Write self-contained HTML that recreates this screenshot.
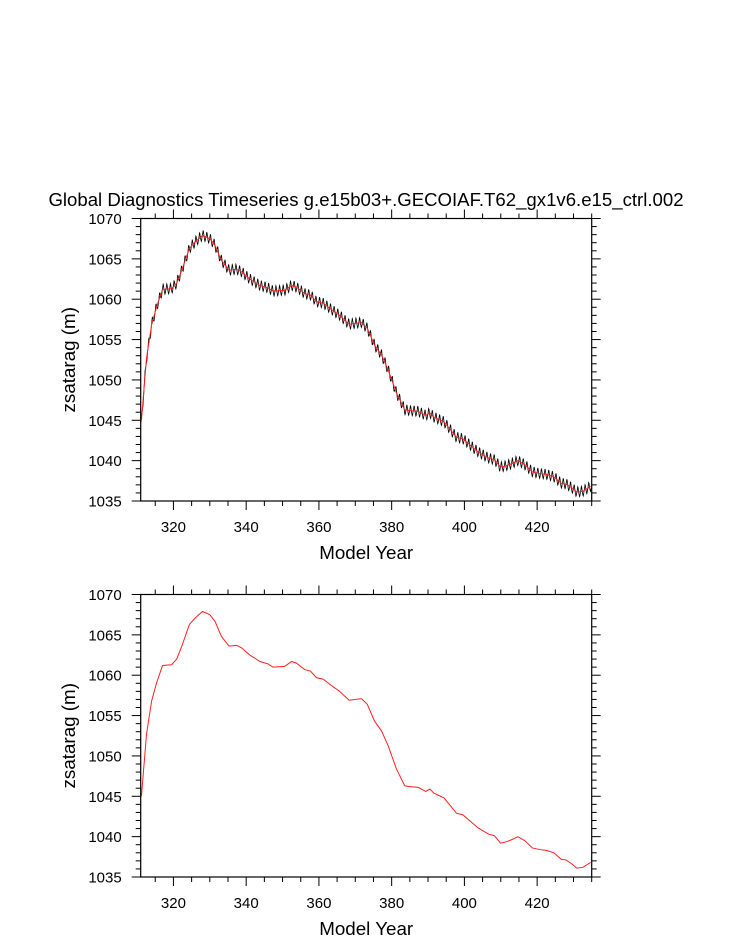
<!DOCTYPE html>
<html><head><meta charset="utf-8"><style>
html,body{margin:0;padding:0;background:#fff;}
svg{display:block;font-family:"Liberation Sans",Arial,sans-serif;}
</style></head><body>
<svg id="chart" width="733" height="945" viewBox="0 0 733 945">
<text x="366" y="206" text-anchor="middle" font-size="18.6">Global Diagnostics Timeseries g.e15b03+.GECOIAF.T62_gx1v6.e15_ctrl.002</text>
</svg>
<script>
const years = [311.2,312.6,314,315.4,317,319.5,320.9,322.3,324.4,326,328,330,331.4,333.2,335.3,337.4,338.7,341,343.8,346,347.4,350.6,352.5,353.8,356.1,357.7,359.3,361.2,363.5,365.7,367.1,368.3,371.7,373.3,375.3,377.2,379,381.3,383.6,385,387.3,389.4,390.5,391.6,394.4,396.2,397.8,399.6,401.9,403.7,404.8,406.7,408.3,409.9,411.1,412.9,414.7,416.6,418.7,420.7,422.5,424.6,426.6,428,429.6,430.9,432.6,434.7];
const values = [1045.0,1052.7,1056.8,1059.1,1061.2,1061.3,1062.0,1063.6,1066.3,1067.1,1067.9,1067.5,1066.7,1064.8,1063.6,1063.7,1063.4,1062.5,1061.7,1061.4,1061.0,1061.1,1061.7,1061.5,1060.7,1060.5,1059.7,1059.5,1058.7,1058.0,1057.4,1056.9,1057.1,1056.4,1054.3,1053.1,1051.3,1048.4,1046.3,1046.2,1046.1,1045.6,1045.9,1045.4,1044.8,1043.8,1042.9,1042.7,1041.8,1041.1,1040.8,1040.3,1040.1,1039.2,1039.3,1039.6,1040.0,1039.5,1038.6,1038.4,1038.3,1038.0,1037.2,1037.1,1036.6,1036.1,1036.2,1036.8];
const seasonal = [0.1,0.4,0.65,0.55,0.25,0.0,-0.25,-0.45,-0.6,-0.5,-0.25,0.0];
const xTicks = [320,340,360,380,400,420];
const yTicks = [1035,1040,1045,1050,1055,1060,1065,1070];
const xDomain = [311,435], yDomain = [1035,1070];

const NS = "http://www.w3.org/2000/svg";
const svg = document.getElementById('chart');
function el(tag, attrs, parent){const e=document.createElementNS(NS,tag);for(const k in attrs)e.setAttribute(k,attrs[k]);(parent||svg).appendChild(e);return e;}
function interp(y){
  if(y<=years[0])return values[0]-(years[0]-y)*3;
  for(let i=1;i<years.length;i++){if(y<=years[i]){const t=(y-years[i-1])/(years[i]-years[i-1]);return values[i-1]+t*(values[i]-values[i-1]);}}
  return values[values.length-1];
}
function panel(top, withMonthly, id){
  const L=140.7,R=591.7,T=top,B=top+282.5;
  const sx=v=>L+(v-xDomain[0])/(xDomain[1]-xDomain[0])*(R-L);
  const sy=v=>B-(v-yDomain[0])/(yDomain[1]-yDomain[0])*(B-T);
  const g=el('g',{});
  
  
  const clip=el('clipPath',{id:'clip'+id},g);
  el('rect',{x:L,y:T,width:R-L,height:B-T},clip);
  if(withMonthly){
    let d='';
    for(let m=0;m<=(434.9-311.0)*12;m++){
      const yr=311.0+m/12; const v=interp(yr)+seasonal[m%12];
      d+=(m?'L':'M')+sx(yr).toFixed(2)+','+sy(v).toFixed(2);
    }
    const p=el('path',{d:d,fill:'none',stroke:'#000','stroke-width':0.8,'clip-path':'url(#clip'+id+')'},g);
    
    
  }
  let d='';
  years.forEach((y,i)=>{d+=(i?'L':'M')+sx(y).toFixed(2)+','+sy(values[i]).toFixed(2);});
  const r=el('path',{d:d,fill:'none',stroke:'#ff2020','stroke-width':1,'clip-path':'url(#clip'+id+')'},g);
  
  
  const frame=el('rect',{x:L,y:T,width:R-L,height:B-T,fill:'none',stroke:'#000','stroke-width':1.2},g);
  
  
  for(let v=315;v<=435;v+=5){
    const major=(v%20===0); const len=major?9:5; const X=sx(v);
    el('line',{x1:X,y1:B,x2:X,y2:B+len,stroke:'#000','stroke-width':1},g);
    el('line',{x1:X,y1:T,x2:X,y2:T-len,stroke:'#000','stroke-width':1},g);
  }
  xTicks.forEach(v=>{
    const t=el('text',{x:sx(v),y:B+31,'text-anchor':'middle','font-size':15},g);
    t.textContent=v;
    
    
  });
  for(let v=1035;v<=1070;v+=1){
    const major=(v%5===0); const len=major?9:5; const Y=sy(v);
    el('line',{x1:L,y1:Y,x2:L-len,y2:Y,stroke:'#000','stroke-width':1},g);
    el('line',{x1:R,y1:Y,x2:R+len,y2:Y,stroke:'#000','stroke-width':1},g);
  }
  yTicks.forEach(v=>{
    const t=el('text',{x:L-19,y:sy(v)+5.5,'text-anchor':'end','font-size':15},g);
    t.textContent=v;
    
    
  });
  const xt=el('text',{x:(L+R)/2,y:B+58,'text-anchor':'middle','font-size':18.8},g);
  xt.textContent='Model Year';
  
  
  const cy=(T+B)/2;
  const yt=el('text',{x:75,y:cy,'text-anchor':'middle','font-size':18.8,transform:'rotate(-90 75 '+cy+')'},g);
  yt.textContent='zsatarag (m)';
  
  
}
panel(218.5,true,'top');
panel(594.5,false,'bottom');
</script>
</body></html>
